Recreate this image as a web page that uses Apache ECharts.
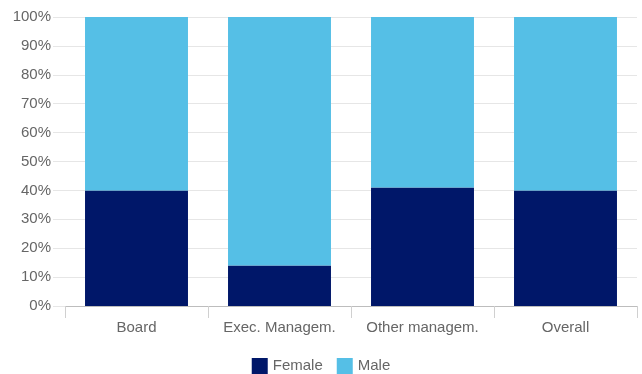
<!DOCTYPE html>
<html>
<head>
<meta charset="utf-8">
<script src="https://cdn.jsdelivr.net/npm/echarts@6/dist/echarts.min.js"></script>
<style>
  html, body { margin: 0; padding: 0; background: #fff; }
  #chart { width: 642px; height: 374px; }
</style>
</head>
<body>
<div id="chart"></div>
<script>
// Gender split by organisational level (share of headcount, %)
const categories = ['Board', 'Exec. Managem.', 'Other managem.', 'Overall'];
const female = [40, 14, 41, 40];
const male = [60, 86, 59, 60];
const seriesNames = ['Female', 'Male'];

const textColor = '#666666';
const font = 'Liberation Sans, Arial, Helvetica, sans-serif';

const chart = echarts.init(document.getElementById('chart'));
chart.setOption({
  animation: false,
  textStyle: { fontFamily: font },
  grid: { left: 65, right: 5, top: 17, bottom: 68 },
  legend: {
    top: 353,
    left: 'center',
    itemWidth: 16,
    itemHeight: 16,
    itemGap: 14,
    icon: 'rect',
    textStyle: { color: textColor, fontSize: 15, fontFamily: font },
    data: seriesNames
  },
  xAxis: {
    type: 'category',
    data: categories,
    axisLine: { lineStyle: { color: '#bdbdbd', width: 1 } },
    axisTick: { show: true, length: 12, lineStyle: { color: '#d0d0d0' } },
    axisLabel: { color: textColor, fontSize: 15, margin: 14, interval: 0 },
  },
  yAxis: {
    type: 'value',
    min: 0,
    max: 100,
    interval: 10,
    axisLine: { show: false },
    axisTick: { show: true, length: 12, lineStyle: { color: '#e6e6e6' } },
    splitLine: { lineStyle: { color: '#e6e6e6' } },
    axisLabel: { color: textColor, fontSize: 15, margin: 14, formatter: '{value}%' }
  },
  series: [
    {
      name: seriesNames[0],
      type: 'bar',
      stack: 'total',
      barWidth: '72%',
      itemStyle: { color: '#001769' },
      data: female
    },
    {
      name: seriesNames[1],
      type: 'bar',
      stack: 'total',
      barWidth: '72%',
      itemStyle: { color: '#55bfe6' },
      data: male
    }
  ]
});
</script>
</body>
</html>
